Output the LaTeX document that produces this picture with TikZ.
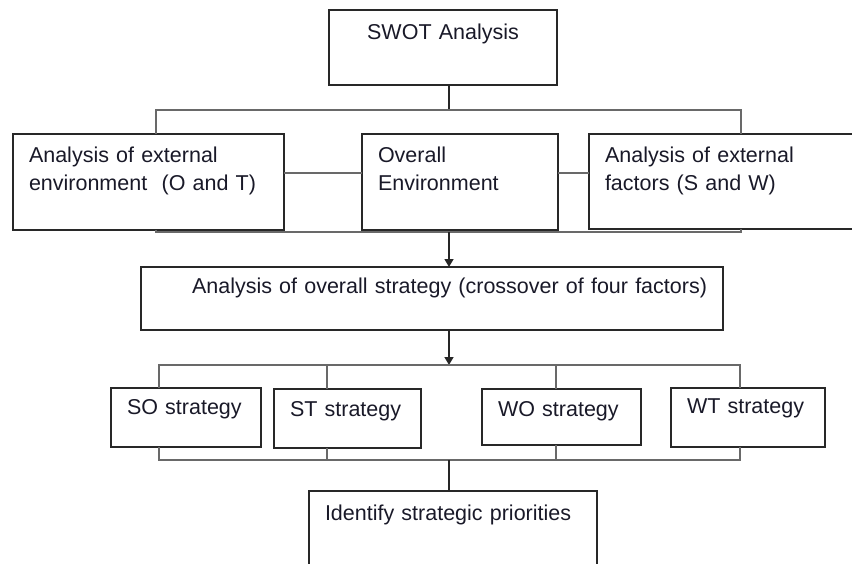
\documentclass[tikz,border=0pt]{standalone}
\usepackage{fontspec}
\setmainfont{Liberation Sans}
\usetikzlibrary{arrows.meta}
\definecolor{boxline}{RGB}{40, 40, 40}
\definecolor{busline}{RGB}{105, 105, 105}
\definecolor{labeltext}{RGB}{25, 25, 40}

\tikzset{
  stage/.style={draw=boxline, line width=0.8pt, anchor=north west, outer sep=0pt,
    inner xsep=8pt, inner ysep=0pt, align=left, text=labeltext,
    font=\fontsize{10.75}{14}\selectfont},
  bus/.style={draw=busline, line width=0.9pt},
  stem/.style={draw=black!85, line width=0.7pt},
  feed/.style={stem, -{Triangle[width=4.5pt,length=4pt]}}
}

\begin{document}
\begin{tikzpicture}[x=0.5pt, y=-0.5pt]
\clip (0,0) rectangle (852,563);

% Boxes
\node[stage, align=center, text width=98pt, text height=14.5pt, text depth=23pt] (swot) at (329,10) {SWOT Analysis};
\node[stage, text width=119.5pt, text height=14.3pt, text depth=33.7pt] (ext) at (13,134) {Analysis of external\\environment\ \ (O and T)};
\node[stage, text width=82pt, text height=14.3pt, text depth=33.7pt] (overall) at (362,134) {Overall\\Environment};
\node[stage, text width=134pt, text height=14.3pt, text depth=33.2pt] (internal) at (589,134) {Analysis of external\\factors (S and W)};
\node[stage, align=right, text width=275pt, text height=13.2pt, text depth=18.3pt] (strat) at (141,267) {Analysis of overall strategy (crossover of four factors)};
\node[stage, text width=59pt, text height=13.2pt, text depth=16.3pt] (so) at (111,388) {SO strategy};
\node[stage, text width=57.5pt, text height=13.5pt, text depth=16pt] (st) at (274,389) {ST strategy};
\node[stage, text width=63.5pt, text height=13.5pt, text depth=14.5pt] (wo) at (482,389) {WO strategy};
\node[stage, text width=61pt, text height=12.7pt, text depth=16.8pt] (wt) at (671,388) {WT strategy};
\node[stage, text width=128pt, text height=14.5pt, text depth=45.5pt] (final) at (309,491) {Identify strategic priorities};

% Rows and columns of the connector lines
\coordinate (spine) at (449,0);
\coordinate (toprow) at (0,110);
\coordinate (midrow) at (0,173);
\coordinate (lowrow) at (0,232);
\coordinate (splitrow) at (0,365);
\coordinate (joinrow) at (0,460);
\coordinate (colL) at (156,0);
\coordinate (colR) at (741,0);
\coordinate (colSO) at (159,0);
\coordinate (colST) at (327,0);
\coordinate (colWO) at (556,0);
\coordinate (colWT) at (740,0);

% SWOT to the three environment boxes
\draw[stem] (swot.south -| spine) -- (toprow -| spine);
\draw[bus] (ext.north -| colL) -- (colL |- toprow) -- (colR |- toprow) -- (internal.north -| colR);
\draw[bus] (ext.east |- midrow) -- (overall.west |- midrow);
\draw[bus] (overall.east |- midrow) -- (internal.west |- midrow);
\draw[bus] (ext.south -| colL) -- (colL |- lowrow) -- (colR |- lowrow) -- (internal.south -| colR);

% Into and out of the overall strategy
\draw[feed] (lowrow -| spine) -- (strat.north -| spine);
\draw[feed] (strat.south -| spine) -- (splitrow -| spine);

% Four strategies
\draw[bus] (so.north -| colSO) -- (colSO |- splitrow) -- (colWT |- splitrow) -- (wt.north -| colWT);
\draw[bus] (st.north -| colST) -- (colST |- splitrow);
\draw[bus] (wo.north -| colWO) -- (colWO |- splitrow);
\draw[bus] (so.south -| colSO) -- (colSO |- joinrow) -- (colWT |- joinrow) -- (wt.south -| colWT);
\draw[bus] (st.south -| colST) -- (colST |- joinrow);
\draw[bus] (wo.south -| colWO) -- (colWO |- joinrow);
\draw[stem] (joinrow -| spine) -- (final.north -| spine);
\end{tikzpicture}
\end{document}
